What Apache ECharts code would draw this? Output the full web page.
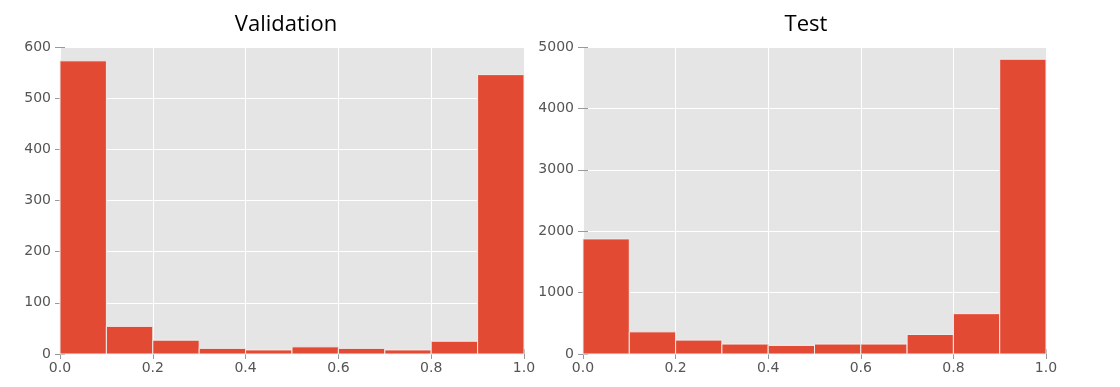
<!DOCTYPE html>
<html>
<head>
<meta charset="utf-8">
<script src="https://cdn.jsdelivr.net/npm/echarts@6/dist/echarts.min.js"></script>
<style>
html,body{margin:0;padding:0;background:#fff;}
#c{width:1120px;height:387px;}
</style>
</head>
<body>
<div id="c"></div>
<script>
const binEdges = [0.0, 0.1, 0.2, 0.3, 0.4, 0.5, 0.6, 0.7, 0.8, 0.9, 1.0];
const validationCounts = [573, 54, 27, 11, 8, 14, 11, 8, 25, 546];
const testCounts = [1875, 361, 226, 162, 140, 162, 162, 318, 657, 4801];
const titles = ['Validation', 'Test'];
const valYMax = 600, valYStep = 100;
const testYMax = 5000, testYStep = 1000;

function toRows(counts){
  return counts.map((c,i)=>[binEdges[i], binEdges[i+1], c]);
}

const labelStyle = {color:'#555555', fontFamily:'DejaVu Sans', fontSize:14};
const tickStyle = {show:true, inside:false, length:5, lineStyle:{color:'#999999', width:1}};

function xAxes(gi){
  return [
    {gridIndex:gi, type:'value', min:0, max:1, interval:0.2, position:'bottom',
     axisLine:{show:false}, axisTick:tickStyle,
     axisLabel:Object.assign({margin:7, formatter:v=>v.toFixed(1)}, labelStyle),
     splitLine:{show:true, lineStyle:{color:'#ffffff', width:1}}},
    {gridIndex:gi, type:'value', min:0, max:1, interval:0.2, position:'top',
     axisLine:{show:false}, axisTick:tickStyle, axisLabel:{show:false}, splitLine:{show:false}}
  ];
}
function yAxes(gi, max, step){
  return [
    {gridIndex:gi, type:'value', min:0, max:max, interval:step, position:'left',
     axisLine:{show:false}, axisTick:tickStyle,
     axisLabel:Object.assign({margin:9, formatter:v=>String(v)}, labelStyle),
     splitLine:{show:true, lineStyle:{color:'#ffffff', width:1}}},
    {gridIndex:gi, type:'value', min:0, max:max, interval:step, position:'right',
     axisLine:{show:false}, axisTick:tickStyle, axisLabel:{show:false}, splitLine:{show:false}}
  ];
}

function renderBar(params, api){
  const x0 = api.value(0), x1 = api.value(1), y = api.value(2);
  const p0 = api.coord([x0, y]);
  const p1 = api.coord([x1, 0]);
  return {
    type:'rect',
    shape:{x:p0[0], y:p0[1], width:p1[0]-p0[0], height:p1[1]-p0[1]},
    style:{fill:'#E24A33', stroke:'#EEEEEE', lineWidth:1}
  };
}

const titleFont = {fontFamily:'Open Sans', fontWeight:'normal', fontSize:22, fill:'#000'};
const chart = echarts.init(document.getElementById('c'), null, {renderer:'canvas'});
chart.setOption({
  animation:false,
  backgroundColor:'#ffffff',
  graphic:[
    {type:'text', x:286, y:25, style:Object.assign({text:titles[0], align:'center', verticalAlign:'middle'}, titleFont)},
    {type:'text', x:806, y:25, style:Object.assign({text:titles[1], align:'center', verticalAlign:'middle'}, titleFont)}
  ],
  grid:[
    {left:60, top:47, width:464, height:307, show:true, backgroundColor:'#E5E5E5', borderWidth:0, containLabel:false},
    {left:583, top:47, width:463, height:307, show:true, backgroundColor:'#E5E5E5', borderWidth:0, containLabel:false}
  ],
  xAxis:[...xAxes(0), ...xAxes(1)],
  yAxis:[...yAxes(0, valYMax, valYStep), ...yAxes(1, testYMax, testYStep)],
  series:[
    {type:'custom', xAxisIndex:0, yAxisIndex:0, renderItem:renderBar,
     encode:{x:[0,1], y:2}, data:toRows(validationCounts), z:2},
    {type:'custom', xAxisIndex:2, yAxisIndex:2, renderItem:renderBar,
     encode:{x:[0,1], y:2}, data:toRows(testCounts), z:2}
  ]
});
</script>
</body>
</html>
